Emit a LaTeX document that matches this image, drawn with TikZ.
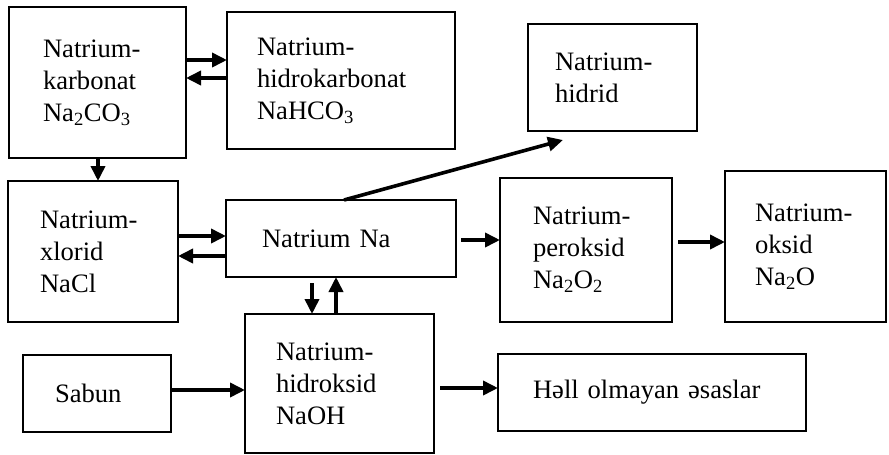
\documentclass[tikz,border=0pt]{standalone}
\usepackage{fontspec}
\setmainfont{Liberation Serif}
\usetikzlibrary{arrows.meta}
\tikzset{
  box/.style={draw, line width=2.4pt, anchor=north west, outer sep=0pt, inner ysep=0pt,
    align=left, font=\fontsize{26.6}{32}\selectfont},
  arr/.style={line width=3.6pt, -{Triangle[length=15pt,width=14pt]}}
}
\begin{document}
\begin{tikzpicture}[x=1pt,y=-1pt]
\useasboundingbox (0,0) rectangle (889,455);
\node[box, inner xsep=34pt, text width=109pt, minimum height=151pt] (A) at (9,7)
  {Natrium-\\karbonat\\Na\textsubscript{2}CO\textsubscript{3}};
\node[box, inner xsep=30pt, text width=168pt, minimum height=137pt] (B) at (227,12)
  {Natrium-\\hidrokarbonat\\NaHCO\textsubscript{3}};
\node[box, inner xsep=27pt, text width=115pt, minimum height=107pt] (Hid) at (528,24)
  {Natrium-\\hidrid};
\node[box, inner xsep=32pt, text width=106pt, minimum height=141pt] (C) at (8,181)
  {Natrium-\\xlorid\\NaCl};
\node[box, inner xsep=36pt, text width=158pt, minimum height=77pt] (Na) at (226,200)
  {Natrium Na};
\node[box, inner xsep=33pt, text width=106pt, minimum height=144pt] (Per) at (500,178)
  {Natrium-\\peroksid\\Na\textsubscript{2}O\textsubscript{2}};
\node[box, inner xsep=30pt, text width=101pt, minimum height=151pt] (Oks) at (725,171)
  {Natrium-\\oksid\\Na\textsubscript{2}O\\[14pt]};
\node[box, inner xsep=31pt, text width=127pt, minimum height=139pt] (NaOH) at (245,314)
  {Natrium-\\hidroksid\\NaOH};
\node[box, inner xsep=32pt, text width=84pt, minimum height=77pt] (Sab) at (23,355)
  {Sabun};
\node[box, inner xsep=35pt, text width=238pt, minimum height=77pt] (Hell) at (498,354)
  {Həll olmayan əsaslar};
\coordinate (hidtip) at (563,140);

\draw[arr] (A.east |- 0,60) -- (B.west |- 0,60);
\draw[arr] (B.west |- 0,78) -- (A.east |- 0,78);
\draw[arr] (A.south -| 98,0) -- (C.north -| 98,0);
\draw[arr] (C.east |- 0,236) -- (Na.west |- 0,236);
\draw[arr] (Na.west |- 0,256) -- (C.east |- 0,256);
\draw[arr] (Na.north -| 344,0) -- (hidtip);
\draw[arr, shorten <=6pt] (Na.south -| 312,0) -- (NaOH.north -| 312,0);
\draw[arr] (NaOH.north -| 336,0) -- (Na.south -| 336,0);
\draw[arr, shorten <=5pt] (Na.east |- 0,240) -- (Per.west |- 0,240);
\draw[arr, shorten <=6pt] (Per.east |- 0,242) -- (Oks.west |- 0,242);
\draw[arr] (Sab.east |- 0,390) -- (NaOH.west |- 0,390);
\draw[arr, shorten <=6pt] (NaOH.east |- 0,388) -- (Hell.west |- 0,388);
\end{tikzpicture}
\end{document}
